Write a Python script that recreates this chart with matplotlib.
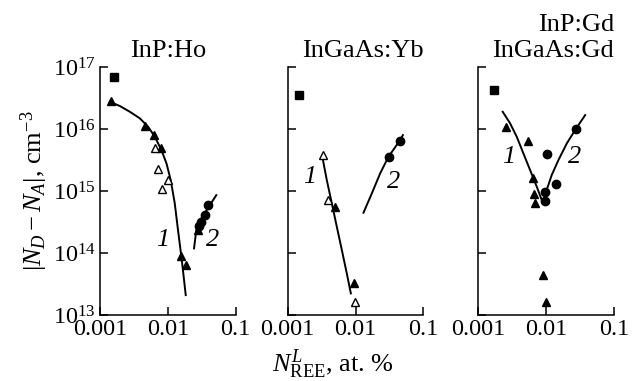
import numpy as np
import matplotlib
matplotlib.use("Agg")
import matplotlib.pyplot as plt
from matplotlib.ticker import LogLocator, NullLocator, FixedLocator, FixedFormatter

plt.rcParams['font.family'] = ['Liberation Serif', 'DejaVu Serif']
plt.rcParams['mathtext.fontset'] = 'custom'
plt.rcParams['mathtext.rm'] = 'Liberation Serif'
plt.rcParams['mathtext.it'] = 'Liberation Serif:italic'
plt.rcParams['mathtext.bf'] = 'Liberation Serif:bold'

# --- InP:Ho ---
ho_sq_x = [0.0016]
ho_sq_y = [6.9e16]
ho_tri_x = [0.00145, 0.0046, 0.0062, 0.008, 0.0159, 0.0184, 0.0279]
ho_tri_y = [2.8e16, 1.1e16, 8e15, 5e15, 9e13, 6.5e13, 2.4e14]
ho_otri_x = [0.0065, 0.0073, 0.0082, 0.0102]
ho_otri_y = [5e15, 2.3e15, 1.07e15, 1.5e15]
ho_circ_x = [0.039, 0.0359, 0.0313, 0.0286]
ho_circ_y = [5.9e14, 4.1e14, 3.2e14, 2.7e14]
ho_fit1_x = [0.00140, 0.00197, 0.00276, 0.00387, 0.00513, 0.00644, 0.00807,
             0.00957, 0.01107, 0.01268, 0.01416, 0.01589, 0.01718, 0.01841]
ho_fit1_y = [2.75e16, 2.35e16, 1.90e16, 1.49e16, 1.09e16, 7.52e15, 4.58e15,
             2.80e15, 1.50e15, 6.34e14, 2.35e14, 8.71e13, 4.14e13, 2.10e13]
ho_fit2_x = [0.0244, 0.0264, 0.0313, 0.052]
ho_fit2_y = [1.19e14, 2.35e14, 3.63e14, 8.6e14]

# --- InGaAs:Yb ---
yb_sq_x = [0.00148]
yb_sq_y = [3.6e16]
yb_tri_x = [0.005, 0.0095]
yb_tri_y = [5.6e14, 3.3e13]
yb_otri_x = [0.0033, 0.0039, 0.0099]
yb_otri_y = [3.8e15, 7.2e14, 1.6e13]
yb_circ_x = [0.0313, 0.0457]
yb_circ_y = [3.5e15, 6.5e15]
yb_fit1_x = [0.00324, 0.00377, 0.00447, 0.0053, 0.00628, 0.00743, 0.00853]
yb_fit1_y = [3.57e15, 1.50e15, 6.34e14, 2.65e14, 1.12e14, 4.71e13, 2.24e13]
yb_fit2_x = [0.0131, 0.0174, 0.0231, 0.0306, 0.0456, 0.05]
yb_fit2_y = [4.47e14, 9.18e14, 1.93e15, 3.57e15, 6.65e15, 8.0e15]

# --- InP:Gd / InGaAs:Gd ---
gd_sq_x = [0.0017]
gd_sq_y = [4.3e16]
gd_tri_x = [0.00254, 0.0054, 0.0065, 0.0067, 0.0069, 0.0091, 0.01]
gd_tri_y = [1.07e16, 6.5e15, 1.6e15, 9.1e14, 6.5e14, 4.4e13, 1.6e13]
gd_circ_x = [0.0103, 0.0141, 0.0096, 0.0095, 0.0277]
gd_circ_y = [4e15, 1.3e15, 9.5e14, 6.8e14, 1.02e16]
gd_fit1_x = [0.00229, 0.00294, 0.00369, 0.00462, 0.00581, 0.00730, 0.00863]
gd_fit1_y = [1.90e16, 1.24e16, 7.52e15, 4.06e15, 2.18e15, 1.17e15, 7.16e14]
gd_fit2_x = [0.00912, 0.0102, 0.0121, 0.0152, 0.0202, 0.0268, 0.0377]
gd_fit2_y = [6.34e14, 1.04e15, 1.81e15, 3.16e15, 5.87e15, 9.64e15, 1.68e16]

x_ticks = [0.001, 0.01, 0.1]
x_tick_labels = ['0.001', '0.01', '0.1']

fig = plt.figure(figsize=(6.38, 3.81), dpi=100)
lefts = [0.1567, 0.451, 0.7497]
axes = [fig.add_axes([l, 0.173, 0.2125, 0.651]) for l in lefts]

fs = 17.5
fs_title = 19
ms = 5.4
lw_fit = 1.4

for i, ax in enumerate(axes):
    ax.set_xscale('log')
    ax.set_yscale('log')
    ax.set_xlim(0.001, 0.1)
    ax.set_ylim(1e13, 1e17)
    ax.spines['top'].set_visible(False)
    ax.spines['right'].set_visible(False)
    ax.spines['left'].set_linewidth(1.1)
    ax.spines['bottom'].set_linewidth(1.1)
    ax.xaxis.set_major_locator(FixedLocator(x_ticks))
    ax.xaxis.set_major_formatter(FixedFormatter(x_tick_labels))
    ax.xaxis.set_minor_locator(NullLocator())
    ax.yaxis.set_major_locator(LogLocator(base=10, numticks=10))
    ax.yaxis.set_minor_locator(NullLocator())
    ax.tick_params(direction='in', length=6, width=1.1, labelsize=fs, pad=3)
    if i > 0:
        ax.tick_params(axis='y', labelleft=False)

def draw(ax, sq, tri, otri, circ, fits):
    for fx, fy in fits:
        ax.plot(fx, fy, color='black', lw=lw_fit, zorder=2,
                solid_joinstyle='round')
    ax.plot(*sq, 's', color='black', ms=ms, zorder=3, clip_on=False)
    ax.plot(*tri, '^', color='black', ms=ms + 0.8, zorder=3, clip_on=False)
    if otri is not None:
        ax.plot(*otri, '^', mfc='white', mec='black', mew=1.0, ms=ms + 0.6,
                zorder=3, clip_on=False)
    ax.plot(*circ, 'o', color='black', ms=ms + 0.6, zorder=3, clip_on=False)

draw(axes[0], (ho_sq_x, ho_sq_y), (ho_tri_x, ho_tri_y), (ho_otri_x, ho_otri_y),
     (ho_circ_x, ho_circ_y), [(ho_fit1_x, ho_fit1_y), (ho_fit2_x, ho_fit2_y)])
draw(axes[1], (yb_sq_x, yb_sq_y), (yb_tri_x, yb_tri_y), (yb_otri_x, yb_otri_y),
     (yb_circ_x, yb_circ_y), [(yb_fit1_x, yb_fit1_y), (yb_fit2_x, yb_fit2_y)])
draw(axes[2], (gd_sq_x, gd_sq_y), (gd_tri_x, gd_tri_y), None,
     (gd_circ_x, gd_circ_y), [(gd_fit1_x, gd_fit1_y), (gd_fit2_x, gd_fit2_y)])

# curve numbers
curve_labels = [
    (axes[0], 0.0084, 1.6e14, 0.046, 1.6e14),
    (axes[1], 0.0021, 1.7e15, 0.036, 1.4e15),
    (axes[2], 0.0028, 3.5e15, 0.026, 3.5e15),
]
for ax, x1, y1, x2, y2 in curve_labels:
    ax.text(x1, y1, '1', fontsize=fs_title, style='italic', ha='center', va='center')
    ax.text(x2, y2, '2', fontsize=fs_title, style='italic', ha='center', va='center')

# panel titles
axes[0].text(0.5, 1.04, 'InP:Ho', transform=axes[0].transAxes, fontsize=fs_title,
             ha='center', va='baseline')
axes[1].text(1.0, 1.04, 'InGaAs:Yb', transform=axes[1].transAxes, fontsize=fs_title,
             ha='right', va='baseline')
axes[2].text(1.0, 1.04, 'InGaAs:Gd', transform=axes[2].transAxes,
             fontsize=fs_title, ha='right', va='baseline')
axes[2].text(1.0, 1.145, 'InP:Gd', transform=axes[2].transAxes,
             fontsize=fs_title, ha='right', va='baseline')

axes[0].set_ylabel(r'$|N_D - N_A|$, cm$^{-3}$', fontsize=fs_title, labelpad=2)
fig.text(0.522, 0.045, r'$N^{L}_{\mathrm{REE}}$, at. %', fontsize=fs_title,
         ha='center', va='center')

fig.savefig('out.png', dpi=100)
